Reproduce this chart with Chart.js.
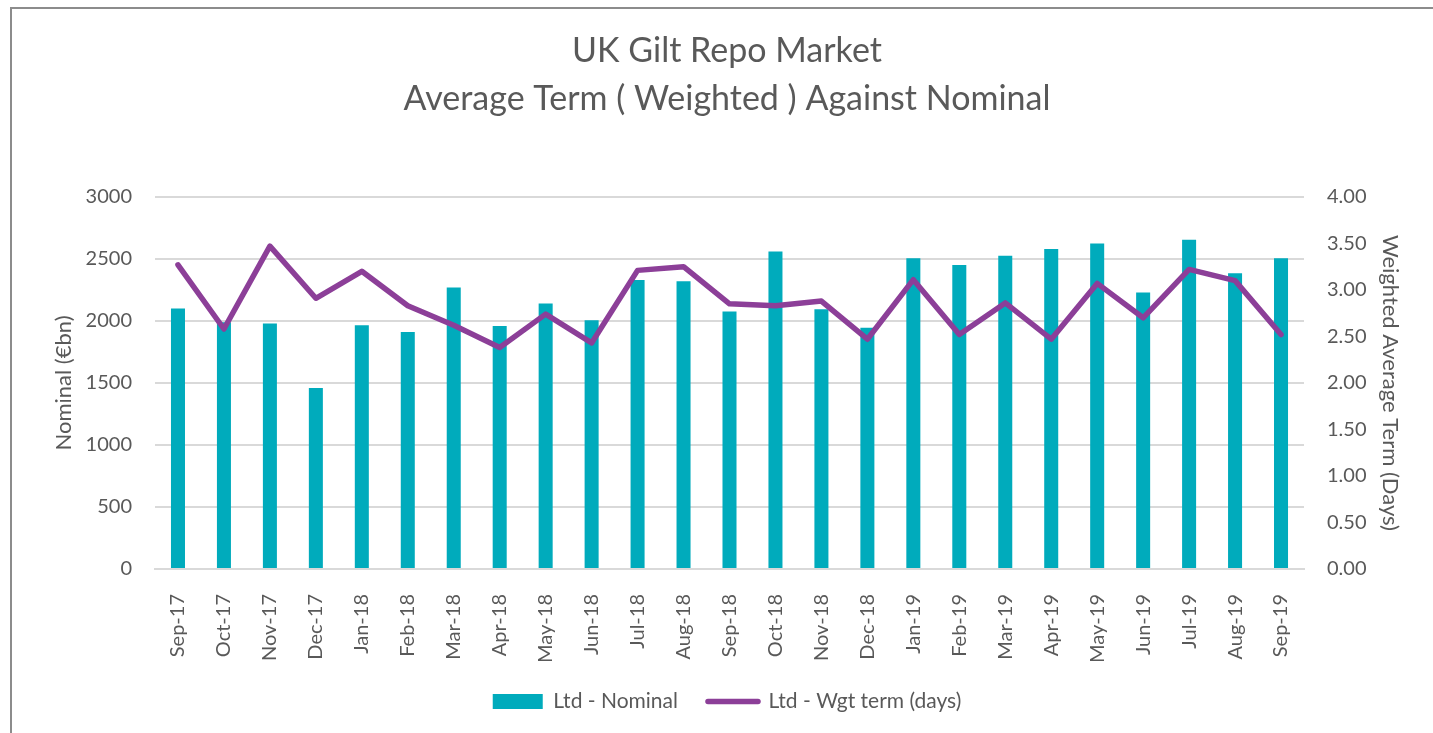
<!DOCTYPE html>
<html>
<head>
<meta charset="utf-8">
<script src="https://cdn.jsdelivr.net/npm/chart.js@4.4.1/dist/chart.umd.min.js"></script>
<style>
  html, body { margin: 0; padding: 0; background: #fff; overflow: hidden; }
  #wrap { position: relative; width: 1433px; height: 733px; }
  #frame { position: absolute; left: 10px; top: 7px; width: 1440px; height: 760px;
           border-left: 2px solid #8c8c8c; border-top: 2px solid #8c8c8c; box-sizing: border-box; pointer-events: none; }
  canvas { position: absolute; left: 0; top: 0; }
</style>
</head>
<body>
<div id="wrap">
  <canvas id="c" width="1433" height="722"></canvas>
  <div id="frame"></div>
</div>
<script>
const categories = ["Sep-17","Oct-17","Nov-17","Dec-17","Jan-18","Feb-18","Mar-18","Apr-18","May-18","Jun-18","Jul-18","Aug-18","Sep-18","Oct-18","Nov-18","Dec-18","Jan-19","Feb-19","Mar-19","Apr-19","May-19","Jun-19","Jul-19","Aug-19","Sep-19"];
const nominal = [2100, 1990, 1980, 1460, 1965, 1910, 2270, 1960, 2140, 2005, 2330, 2320, 2075, 2560, 2095, 1945, 2505, 2450, 2525, 2580, 2625, 2230, 2655, 2385, 2505];
const wgtTerm = [3.27, 2.58, 3.47, 2.91, 3.20, 2.83, 2.62, 2.38, 2.74, 2.43, 3.21, 3.25, 2.85, 2.83, 2.88, 2.47, 3.11, 2.52, 2.86, 2.47, 3.07, 2.70, 3.22, 3.10, 2.52];
const titleLines = ["UK Gilt Repo Market", "Average Term ( Weighted ) Against Nominal"];
const seriesNames = ["Ltd - Nominal", "Ltd - Wgt term (days)"];
const leftTitle = "Nominal (€bn)";
const rightTitle = "Weighted Average Term (Days)";

const TEXT = "#595959";
const BAR = "#00abbc";
const LINE = "#8c3f98";
const GRID = "#d9d9d9";
const FONT = "Lato, 'Open Sans', sans-serif";

new Chart(document.getElementById("c"), {
  data: {
    labels: categories,
    datasets: [
      { type: "bar", label: seriesNames[0], data: nominal, yAxisID: "y", backgroundColor: BAR,
        borderWidth: 0, categoryPercentage: 1, barPercentage: 0.305, order: 2 },
      { type: "line", label: seriesNames[1], data: wgtTerm, yAxisID: "y1", borderColor: LINE,
        backgroundColor: LINE, borderWidth: 5.5, pointRadius: 0, pointHoverRadius: 0, tension: 0,
        borderJoinStyle: "round", borderCapStyle: "round", order: 1 }
    ]
  },
  options: {
    responsive: false,
    animation: false,
    layout: { padding: { left: 47, right: 26, top: 0, bottom: 0 } },
    plugins: {
      tooltip: { enabled: false },
      title: {
        display: true, text: titleLines, color: TEXT,
        font: { family: FONT, size: 34, weight: "normal", lineHeight: 1.41 },
        padding: { top: 27, bottom: 74 }
      },
      legend: {
        position: "bottom",
        labels: {
          color: TEXT, font: { family: FONT, size: 21 }, padding: 30,
          usePointStyle: true, pointStyleWidth: 50, boxHeight: 15,
          sort: (a, b) => a.datasetIndex - b.datasetIndex,
          generateLabels(chart) {
            const items = Chart.defaults.plugins.legend.labels.generateLabels(chart);
            items.forEach(it => {
              if (it.datasetIndex === 0) { it.pointStyle = "rect"; it.lineWidth = 0; it.fillStyle = BAR; it.strokeStyle = BAR; }
              else { it.pointStyle = "line"; it.lineWidth = 5.5; it.strokeStyle = LINE; it.fillStyle = LINE; it.lineCap = "round"; }
            });
            return items;
          }
        }
      }
    },
    scales: {
      x: {
        grid: { display: false },
        border: { display: true, color: GRID, width: 2 },
        ticks: { color: TEXT, font: { family: FONT, size: 20 }, minRotation: 90, maxRotation: 90, autoSkip: false, padding: 17 },
        afterFit(s) { s.height = 92; }
      },
      y: {
        position: "left", min: 0, max: 3000,
        ticks: { stepSize: 500, color: TEXT, font: { family: FONT, size: 20 }, padding: 23, callback: v => String(v) },
        grid: { color: GRID, lineWidth: 2, drawTicks: false },
        border: { display: false },
        title: { display: true, text: leftTitle, color: TEXT, font: { family: FONT, size: 22 }, padding: { top: 4, bottom: 4 } },
        afterFit(s) { s.width = 108; }
      },
      y1: {
        position: "right", min: 0, max: 4,
        ticks: { stepSize: 0.5, color: TEXT, font: { family: FONT, size: 20 }, padding: 23, callback: v => Number(v).toFixed(2) },
        grid: { display: false, drawTicks: false },
        border: { display: false },
        title: { display: true, text: rightTitle, color: TEXT, font: { family: FONT, size: 22 }, padding: { top: 4, bottom: 4 } },
        afterFit(s) { s.width = 103; }
      }
    }
  }
});
</script>
</body>
</html>
